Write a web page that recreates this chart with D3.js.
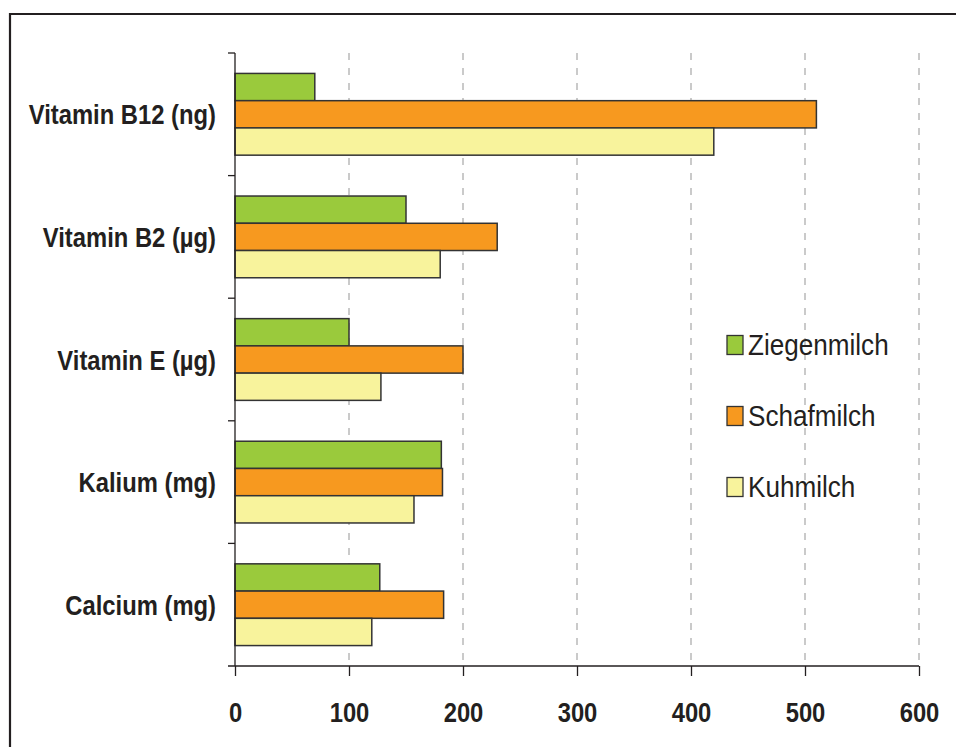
<!DOCTYPE html>
<html>
<head>
<meta charset="utf-8">
<script src="https://cdn.jsdelivr.net/npm/d3@7"></script>
<style>
  html, body { margin: 0; padding: 0; background: #fff; }
  svg { display: block; }
  .lbl { font-family: "Liberation Sans", Arial, sans-serif; }
</style>
</head>
<body>
<svg id="chart" width="956" height="747"></svg>
<script>
// Nutrient categories, top to bottom
const categories = ["Vitamin B12 (ng)", "Vitamin B2 (µg)", "Vitamin E (µg)", "Kalium (mg)", "Calcium (mg)"];
const seriesNames = ["Ziegenmilch", "Schafmilch", "Kuhmilch"];
const ziegenmilch = [70, 150, 100, 181, 127];
const schafmilch  = [510, 230, 200, 182, 183];
const kuhmilch    = [420, 180, 128, 157, 120];
const xTicks = [0, 100, 200, 300, 400, 500, 600];
const colors = ["#9aca3c", "#f7991f", "#f8f39c"];

const seriesValues = [ziegenmilch, schafmilch, kuhmilch];
const rows = categories.map((c, i) => ({
  cat: c,
  vals: seriesNames.map((s, j) => ({ key: s, value: seriesValues[j][i] }))
}));

const svg = d3.select("#chart");
const ink = "#231f20";
const narrowBold = 0.85;   // condensed look for the bold labels
const narrowReg = 0.9;     // condensed look for the legend text

// Outer frame (runs past the right and bottom edge)
svg.append("path")
  .attr("d", "M10,760 L10,14 L970,14")
  .attr("fill", "none")
  .attr("stroke", ink)
  .attr("stroke-width", 2.2);

const x = d3.scaleLinear().domain([0, 600]).range([235, 919]);
const y0 = d3.scaleBand().domain(categories).range([53, 666]).paddingInner(0).paddingOuter(0);
const y1 = d3.scaleBand().domain(seriesNames).range([0, y0.bandwidth()]).paddingInner(0).paddingOuter(0.75);
const color = d3.scaleOrdinal().domain(seriesNames).range(colors);

// Dashed vertical gridlines
svg.append("g")
  .selectAll("line")
  .data(xTicks.filter(d => d > 0))
  .join("line")
  .attr("x1", d => x(d)).attr("x2", d => x(d))
  .attr("y1", 53).attr("y2", 666)
  .attr("stroke", "#a7a7a7")
  .attr("stroke-width", 1.2)
  .attr("stroke-dasharray", "7,8");

// Bars
svg.append("g")
  .selectAll("g")
  .data(rows)
  .join("g")
  .attr("transform", d => `translate(0,${y0(d.cat)})`)
  .selectAll("rect")
  .data(d => d.vals)
  .join("rect")
  .attr("x", x(0))
  .attr("y", d => y1(d.key))
  .attr("width", d => x(d.value) - x(0))
  .attr("height", y1.bandwidth())
  .attr("fill", d => color(d.key))
  .attr("stroke", "#333")
  .attr("stroke-width", 1.5);

// Y axis: line with ticks at band boundaries
const yAxis = svg.append("g");
yAxis.append("line")
  .attr("x1", x(0)).attr("x2", x(0))
  .attr("y1", 53).attr("y2", 666)
  .attr("stroke", ink).attr("stroke-width", 1.3);
yAxis.selectAll("line.tick")
  .data(categories)
  .join("line")
  .attr("class", "tick")
  .attr("x1", x(0) - 7).attr("x2", x(0))
  .attr("y1", d => y0(d)).attr("y2", d => y0(d))
  .attr("stroke", ink).attr("stroke-width", 1.3);
yAxis.selectAll("text")
  .data(categories)
  .join("text")
  .attr("class", "lbl")
  .attr("transform", d => `translate(216,${y0(d) + y0.bandwidth() / 2}) scale(${narrowBold},1)`)
  .attr("dy", "0.36em")
  .attr("text-anchor", "end")
  .attr("font-size", 28)
  .attr("font-weight", "bold")
  .attr("fill", ink)
  .text(d => d);

// X axis
const xAxis = d3.axisBottom(x).tickValues(xTicks).tickSize(10).tickPadding(26).tickSizeOuter(0);
const gx = svg.append("g").attr("transform", "translate(0,666)").call(xAxis);
gx.select(".domain").remove();
gx.append("line")
  .attr("x1", x(0) - 7).attr("x2", x(600))
  .attr("stroke", ink).attr("stroke-width", 1.3);
gx.selectAll(".tick line").attr("stroke", ink).attr("stroke-width", 1.3);
gx.selectAll(".tick text")
  .attr("class", "lbl")
  .attr("transform", `scale(${narrowBold},1)`)
  .attr("font-size", 28)
  .attr("font-weight", "bold")
  .attr("fill", ink);

// Legend
const legend = svg.append("g").selectAll("g")
  .data(seriesNames)
  .join("g")
  .attr("transform", (d, i) => `translate(727,${[345, 416, 487][i]})`);
legend.append("rect")
  .attr("x", 0).attr("y", -9.5)
  .attr("width", 16).attr("height", 19)
  .attr("fill", d => color(d))
  .attr("stroke", "#333").attr("stroke-width", 1.3);
legend.append("text")
  .attr("class", "lbl")
  .attr("transform", `translate(21,0) scale(${narrowReg},1)`)
  .attr("dy", "0.36em")
  .attr("font-size", 29)
  .attr("fill", ink)
  .text(d => d);
</script>
</body>
</html>
